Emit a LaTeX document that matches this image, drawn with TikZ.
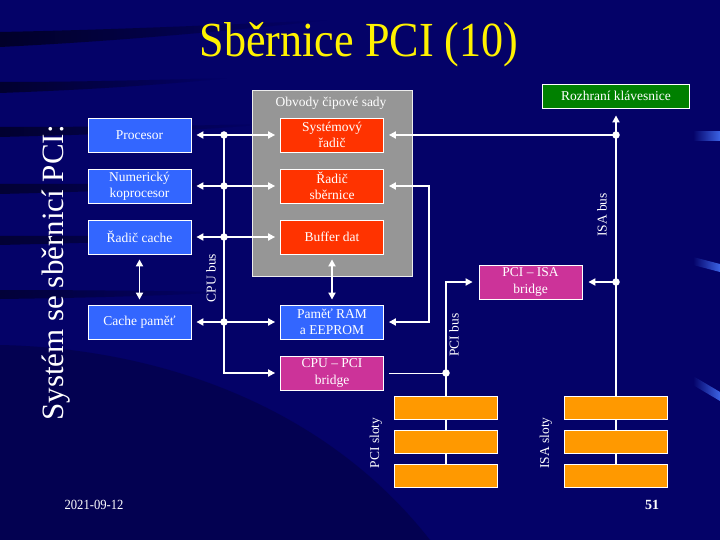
\documentclass[tikz,border=0pt]{standalone}
\usepackage{fontspec}
\setmainfont{Liberation Serif}
\usetikzlibrary{arrows.meta,fadings}
\definecolor{bg}{RGB}{4,2,104}
\definecolor{boxblue}{RGB}{51,102,255}
\definecolor{boxred}{RGB}{255,51,0}
\definecolor{boxmag}{RGB}{204,51,153}
\definecolor{boxorange}{RGB}{255,153,0}
\definecolor{boxgreen}{RGB}{0,128,0}
\definecolor{chipgray}{RGB}{150,150,150}
\definecolor{hilite}{RGB}{60,100,230}
\begin{document}
\begin{tikzpicture}[x=1pt,y=-1pt,
  box/.style={draw=white, line width=0.8pt, minimum width=103pt, minimum height=34pt,
    inner sep=0pt, text=white, font=\fontsize{13.5}{16.5}\selectfont, align=center},
  bluebox/.style={box, fill=boxblue},
  redbox/.style={box, fill=boxred},
  magbox/.style={box, fill=boxmag},
  slotbox/.style={box, fill=boxorange, minimum height=23pt},
  lbl/.style={text=white, font=\fontsize{13.5}{16}\selectfont, inner sep=0pt},
  vlbl/.style={lbl, rotate=90},
  conn/.style={white, line width=1.8pt},
  tipend/.style={-{Triangle[length=7pt,width=7pt]}},
  dbl/.style={conn, {Triangle[length=7pt,width=7pt]}-{Triangle[length=7pt,width=7pt]}, shorten <=5pt, shorten >=5pt},
  busline/.style={white, line width=1.5pt},
  thinline/.style={white, line width=1pt},
  busdot/.style={circle, fill=white, inner sep=0pt, minimum size=7.5pt}
]
% background
\fill[bg] (0,0) rectangle (720,540);
\useasboundingbox (0,0) rectangle (720,540);
\fill[black,opacity=.6,path fading=east] (0,32) .. controls (100,30) and (200,26) .. (330,20) .. controls (200,34) and (100,42) .. (0,47) -- cycle;
\fill[black,opacity=.55,path fading=east] (0,82) .. controls (80,82) and (150,80) .. (230,78) .. controls (150,86) and (80,90) .. (0,93) -- cycle;
\fill[black,opacity=.55,path fading=east] (0,127) .. controls (80,127) and (180,126) .. (270,124) .. controls (180,132) and (80,135) .. (0,137) -- cycle;
\fill[black,opacity=.5,path fading=east] (0,184) .. controls (80,184) and (170,184) .. (250,183) .. controls (170,189) and (80,192) .. (0,194) -- cycle;
\fill[black,opacity=.5,path fading=east] (0,236) .. controls (80,236) and (170,236) .. (250,236) .. controls (170,241) and (80,243) .. (0,245) -- cycle;
\fill[black,opacity=.45,path fading=east] (0,290) .. controls (80,290) and (160,291) .. (230,292) .. controls (160,296) and (80,298) .. (0,299) -- cycle;
\fill[black,opacity=.22] (0,345) .. controls (150,348) and (320,400) .. (430,540) -- (0,540) -- cycle;
\fill[hilite,path fading=west] (693,131) rectangle (720,141);
\fill[hilite,path fading=west] (693,257) -- (720,264) -- (720,272) -- (693,265) -- cycle;
\fill[hilite,path fading=west] (693,376) -- (720,392) -- (720,401) -- (693,385) -- cycle;

% title
\node[anchor=base, text=yellow, font=\fontsize{49}{55}\selectfont, inner sep=0pt] (title) at (359,56.5) {\scalebox{0.9}[1]{Sběrnice PCI (10)}};
\node[anchor=base, rotate=90, text=white, font=\fontsize{31}{36}\selectfont, inner sep=0pt] (side) at (63,273) {Systém se sběrnicí PCI:};

% chipset group
\node[draw=white!85!gray, line width=0.8pt, fill=chipgray, minimum width=160pt, minimum height=186pt, inner sep=0pt] (chip) at (332,183) {};
\node[lbl] (chiplabel) at (331,103) {Obvody čipové sady};

% boxes
\node[bluebox] (proc) at (139.5,135) {Procesor};
\node[bluebox] (num) at (139.5,186) {Numerický\\koprocesor};
\node[bluebox] (rcache) at (139.5,237) {Řadič cache};
\node[bluebox] (cachem) at (139.5,322) {Cache paměť};
\node[redbox] (sysr) at (332,135) {Systémový\\řadič};
\node[redbox] (rsb) at (332,186) {Řadič\\sběrnice};
\node[redbox] (buf) at (332,237) {Buffer dat};
\node[bluebox] (ram) at (332,322) {Paměť RAM\\a EEPROM};
\node[magbox] (cpupci) at (332,373) {CPU – PCI\\bridge};
\node[magbox] (pciisa) at (530.5,282) {PCI – ISA\\bridge};
\node[box, fill=boxgreen, minimum width=147pt, minimum height=24pt] (kbd) at (616,96) {Rozhraní klávesnice};
\node[slotbox] (ps1) at (446,407.5) {};
\node[slotbox] (ps2) at (446,441.5) {};
\node[slotbox] (ps3) at (446,475.5) {};
\node[slotbox] (is1) at (616,407.5) {};
\node[slotbox] (is2) at (616,441.5) {};
\node[slotbox] (is3) at (616,475.5) {};

% bus points
\coordinate (c1) at (224,135);
\coordinate (c2) at (224,186);
\coordinate (c3) at (224,237);
\coordinate (c4) at (224,322);
\coordinate (i1) at (616,135);
\coordinate (i2) at (616,282);
\coordinate (p1) at (446,373);

% CPU bus
\draw[conn, tipend, shorten >=5pt] (c1) |- (cpupci.west);
\draw[dbl] (proc.east) -- (sysr.west);
\draw[dbl] (num.east) -- (rsb.west);
\draw[dbl] (rcache.east) -- (buf.west);
\draw[dbl] (cachem.east) -- (ram.west);
\draw[dbl] (rcache.south) -- (cachem.north);
\draw[dbl] (buf.south) -- (ram.north);
\draw[dbl] (rsb.east) -- ([xshift=45pt]rsb.east) |- (ram.east);

% ISA bus
\draw[busline] (i1) -- (is1.north);
\draw[busline] (is1.south) -- (is2.north);
\draw[busline] (is2.south) -- (is3.north);
\draw[conn, tipend, shorten >=7pt] (i1) -- (kbd.south);
\draw[conn, tipend, shorten >=5pt] (i1) -- (sysr.east);
\draw[conn, tipend, shorten >=6pt] (i2) -- (pciisa.east);

% PCI bus
\draw[thinline, shorten <=5pt] (cpupci.east) -- (p1);
\draw[busline] (p1) -- (ps1.north);
\draw[busline] (ps1.south) -- (ps2.north);
\draw[busline] (ps2.south) -- (ps3.north);
\draw[conn, tipend, shorten >=6pt] (p1) |- (pciisa.west);

% dots
\foreach \p in {c1,c2,c3,c4,i1,i2,p1} \node[busdot] at (\p) {};

% bus labels
\node[vlbl] (cpulbl) at (211,278) {CPU bus};
\node[vlbl] (pcilbl) at (454,335) {PCI bus};
\node[vlbl] (isalbl) at (602,215) {ISA bus};
\node[vlbl] (pslbl) at (376,443) {PCI sloty};
\node[vlbl] (islbl) at (546,443) {ISA sloty};

% footer
\node[text=white, font=\fontsize{14}{16}\selectfont, inner sep=0pt] (date) at (94,505) {\scalebox{0.9}[1]{2021-09-12}};
\node[text=white, font=\fontsize{14}{16}\selectfont\bfseries, inner sep=0pt] (page) at (652,505) {51};
\end{tikzpicture}
\end{document}
